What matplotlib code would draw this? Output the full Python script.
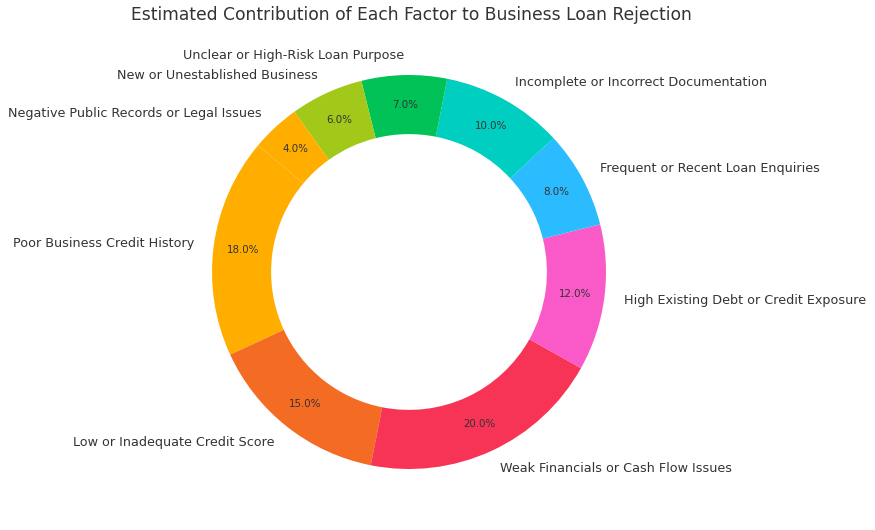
import matplotlib
matplotlib.use('Agg')
import matplotlib.pyplot as plt

factors = [
    "Poor Business Credit History",
    "Low or Inadequate Credit Score",
    "Weak Financials or Cash Flow Issues",
    "High Existing Debt or Credit Exposure",
    "Frequent or Recent Loan Enquiries",
    "Incomplete or Incorrect Documentation",
    "Unclear or High-Risk Loan Purpose",
    "New or Unestablished Business",
    "Negative Public Records or Legal Issues",
]
shares = [18, 15, 20, 12, 8, 10, 7, 6, 4]
colors = ["#FFAE00", "#F46B23", "#F73455", "#F95AC8", "#2BBBFF",
          "#00CEC0", "#00C257", "#A2C81A", "#FFAE00"]

text_color = "#333333"

fig = plt.figure(figsize=(8.75, 5.3), dpi=100)
R = 197.0
ax = fig.add_axes([0, 0, 818 / 875, 516 / 530])
wedges, labels, pcts = ax.pie(
    shares, labels=factors, colors=colors, startangle=140,
    autopct='%1.1f%%', pctdistance=0.85, labeldistance=1.1,
    wedgeprops=dict(width=0.3, edgecolor='none'),
    textprops=dict(color=text_color, fontsize=9.15),
)
for t in pcts:
    t.set_fontsize(7.4)
ax.set_xlim(-409 / R, 409 / R)
ax.set_ylim(-258 / R, 258 / R)
ax.set_aspect('equal')
ax.axis('off')

fig.text(411 / 875, 1 - 15 / 530, "Estimated Contribution of Each Factor to Business Loan Rejection",
         ha='center', va='center', fontsize=12.3, color=text_color)

fig.savefig('out.png', dpi=100)
